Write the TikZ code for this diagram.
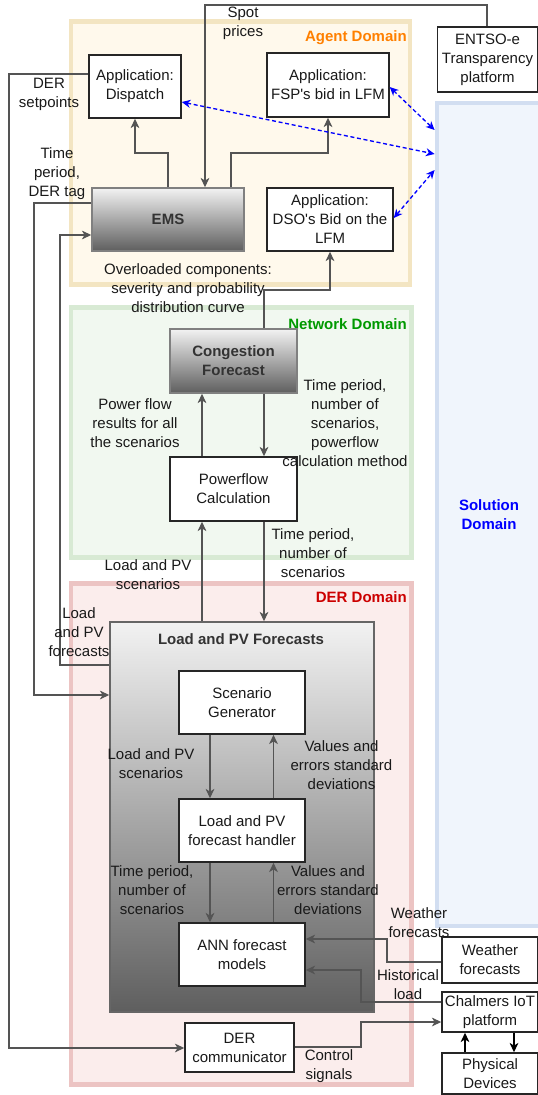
\documentclass[tikz,border=0pt]{standalone}
\usepackage{fontspec}
\setmainfont{Liberation Sans}
\usetikzlibrary{arrows.meta}

\begin{document}
\begin{tikzpicture}[x=0.75pt,y=-0.75pt,
  every node/.style={font=\fontsize{11.25}{14.25}\selectfont,align=center,inner sep=0pt,text=black!90},
  wh/.style 2 args={minimum width=#1*0.75pt,minimum height=#2*0.75pt},
  ttl/.style={font=\fontsize{11.25}{14.25}\selectfont\bfseries},
  blk/.style={draw=black!85,line width=1.1pt,fill=white},
  grad/.style={ttl,draw=black!50,line width=1.1pt,top color=black!5,bottom color=black!63,text=black!80},
  zoneline/.style={line width=3.6pt},
  flow/.style={draw=black!67,line width=1.1pt,-{Stealth[length=7pt,width=6.5pt,inset=2pt]}},
  link/.style={draw=blue,line width=1pt,dash pattern=on 3pt off 2pt,
    {Stealth[length=6.5pt,width=6pt,inset=2pt]}-{Stealth[length=6.5pt,width=6pt,inset=2pt]}}]
\definecolor{agentFill}{HTML}{FFF9EC}
\definecolor{agentLine}{HTML}{F3E5C2}
\definecolor{netFill}{HTML}{F1F8F0}
\definecolor{netLine}{HTML}{D8EAD4}
\definecolor{derFill}{HTML}{FBEDEC}
\definecolor{derLine}{HTML}{ECC4C3}
\definecolor{solFill}{HTML}{F0F5FC}
\definecolor{solLine}{HTML}{D2DEF1}
\useasboundingbox (0,0) rectangle (538,1095);
\fill[white] (0,0) rectangle (538,1095);
\draw[zoneline,draw=agentLine,fill=agentFill] (71,21.5) rectangle (410,284.5);
\draw[zoneline,draw=netLine,fill=netFill] (71,307.5) rectangle (411.5,557.5);
\draw[zoneline,draw=derLine,fill=derFill] (71,583.5) rectangle (411.5,1084.5);
\node[zoneline,draw=solLine,fill=solFill,wh={104}{823},ttl,text=blue] (sol) at (489,514.5) {Solution\\Domain};
\node[ttl,anchor=east,text={rgb,255:red,255;green,128;blue,0}] (agentTitle) at (407,38) {Agent Domain};
\node[ttl,anchor=east,text={rgb,255:red,0;green,153;blue,0}] (netTitle) at (407,324) {Network Domain};
\node[ttl,anchor=east,text={rgb,255:red,204;green,0;blue,0}] (derTitle) at (407,597) {DER Domain};

\node[blk,wh={92}{63}] (disp) at (135,86.5) {Application:\\Dispatch};
\node[blk,wh={122}{64}] (fsp) at (328,85) {Application:\\FSP\textquotesingle s bid in LFM};
\node[blk,wh={100}{65}] (entso) at (487.5,59.5) {ENTSO-e\\Transparency\\platform};
\node[grad,wh={152}{63}] (ems) at (168,219.5) {EMS};
\node[blk,wh={126}{63}] (dso) at (330,219.5) {Application:\\DSO\textquotesingle s Bid on the\\LFM};
\node[grad,wh={127}{64}] (cong) at (233.5,361) {Congestion\\Forecast};
\node[blk,wh={127}{64}] (pf) at (233.5,489) {Powerflow\\Calculation};
\node[grad,draw=black!60,wh={264}{390}] (lpf) at (242,817) {};
\node[ttl,text=black!80] (lpfTitle) at (241,639) {Load and PV Forecasts};
\node[blk,wh={126}{63}] (sg) at (242,702.5) {Scenario\\Generator};
\node[blk,wh={126}{63}] (hdl) at (242,830.5) {Load and PV\\forecast handler};
\node[blk,wh={126}{63}] (ann) at (242,954.5) {ANN forecast\\models};
\node[blk,wh={109}{49}] (derc) at (239.5,1047.5) {DER\\communicator};
\node[blk,wh={96}{46}] (wthr) at (490,960) {Weather\\forecasts};
\node[blk,wh={96}{40}] (iot) at (490,1012) {Chalmers IoT\\platform};
\node[blk,wh={96}{41}] (phys) at (490,1073.5) {Physical\\Devices};

\draw[flow] (487,0 |- entso.north) -- (487,5) -- (205,5) -- (205,0 |- ems.north);
\draw[flow] (168,0 |- ems.north) -- (168,153) -| (disp.south);
\draw[flow] (231,0 |- ems.north) -- (231,153) -| (fsp.south);
\draw[flow] (disp.west |- 0,74) -- (9,74) -- (9,1048) -- (derc.west |- 0,1048);
\draw[flow] (ems.west |- 0,203) -- (34,203) -- (34,695) -- (lpf.west |- 0,695);
\draw[flow] (lpf.west |- 0,665) -- (60,665) -- (60,235) -- (ems.west |- 0,235);
\draw[flow] (264,0 |- cong.north) -- (264,290) -| (dso.south);
\draw[flow] (202,0 |- pf.north) -- (202,0 |- cong.south);
\draw[flow] (264,0 |- cong.south) -- (264,0 |- pf.north);
\draw[flow] (202,0 |- lpf.north) -- (202,0 |- pf.south);
\draw[flow] (264,0 |- pf.south) -- (264,0 |- lpf.north);
\draw[flow] (210,0 |- sg.south) -- (210,0 |- hdl.north);
\draw[flow] (273.5,0 |- hdl.north) -- (273.5,0 |- sg.south);
\draw[flow] (210,0 |- hdl.south) -- (210,0 |- ann.north);
\draw[flow] (273.5,0 |- ann.north) -- (273.5,0 |- hdl.south);
\draw[flow] (wthr.west |- 0,962) -- (387,962) -- (387,939) -- (ann.east |- 0,939);
\draw[flow] (iot.west |- 0,1002) -- (361,1002) -- (361,970) -- (ann.east |- 0,970);
\draw[flow] (derc.east |- 0,1047) -- (361,1047) -- (361,1022) -- (iot.west |- 0,1022);
\draw[flow,draw=black] (465,0 |- phys.north) -- (465,0 |- iot.south);
\draw[flow,draw=black] (514,0 |- iot.south) -- (514,0 |- phys.north);
\draw[link] (disp.east |- 0,102) -- (sol.west |- 0,154);
\draw[link] (fsp.east |- 0,87) -- (sol.west |- 0,130);
\draw[link] (dso.east |- 0,218) -- (sol.west |- 0,170);

\node (spotLbl) at (243,23.5) {Spot\\prices};
\node (setLbl) at (49,94.5) {DER\\setpoints};
\node (tagLbl) at (57,173.7) {Time\\period,\\DER tag};
\node (overLbl) at (188,288) {Overloaded components:\\severity and probability\\distribution curve};
\node (pfresLbl) at (135,422.7) {Power flow\\results for all\\the scenarios};
\node (methLbl) at (345,423) {Time period,\\number of\\scenarios,\\powerflow\\calculation method};
\node (scenLbl) at (148,574.5) {Load and PV\\scenarios};
\node (tpLbl) at (313,552.7) {Time period,\\number of\\scenarios};
\node (lpfLbl) at (79,631.7) {Load\\and PV\\forecasts};
\node (sgLbl) at (151,763.5) {Load and PV\\scenarios};
\node (sdLbl) at (341.5,765.3) {Values and\\errors standard\\deviations};
\node (tp2Lbl) at (152,890.3) {Time period,\\number of\\scenarios};
\node (sd2Lbl) at (328,890.3) {Values and\\errors standard\\deviations};
\node (wthrLbl) at (419,922.5) {Weather\\forecasts};
\node (histLbl) at (408,984.5) {Historical\\load};
\node (ctrlLbl) at (329,1066.5) {Control\\signals};
\end{tikzpicture}
\end{document}
